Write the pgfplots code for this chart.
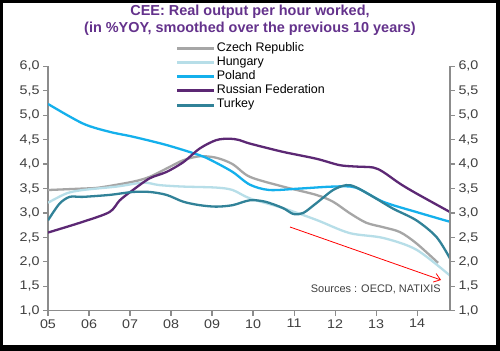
\documentclass[border=0pt]{standalone}
\usepackage{fontspec}
\setmainfont{Liberation Sans}
\newfontfamily\tickfont[FakeStretch=1.14]{Liberation Sans}
\usepackage{pgfplots}
\pgfplotsset{compat=1.18}
\usetikzlibrary{arrows.meta}
\definecolor{czech}{RGB}{166,166,166}
\definecolor{hungary}{RGB}{183,222,232}
\definecolor{poland}{RGB}{20,176,236}
\definecolor{russia}{RGB}{92,40,116}
\definecolor{turkey}{RGB}{49,130,152}
\definecolor{titlecol}{RGB}{100,50,140}
\definecolor{axgray}{RGB}{140,140,140}
\definecolor{txtgray}{RGB}{64,64,64}
\begin{document}
\begin{tikzpicture}
\fill[black] (0bp,0bp) rectangle (500bp,351bp);
\path[use as bounding box] (0bp,0bp) rectangle (500bp,351bp);
\fill[white] (3bp,6bp) rectangle (496bp,348bp);
\node[font=\bfseries\fontsize{14.5}{17}\selectfont, text=titlecol, align=center] at (250bp,330.5bp)
  {CEE: Real output per hour worked,\\(in \%YOY, smoothed over the previous 10 years)};
\pgfplotsset{
  common/.style={
    at={(48bp,40.2bp)}, anchor=south west, scale only axis,
    width=402bp, height=244.5bp,
    xmin=0, xmax=9.8, ymin=1, ymax=6,
    axis line style={axgray, line width=1.2bp, -},
    tick style={axgray, line width=1.2bp},
    tick align=outside, major tick length=5bp,
    ytick={1,1.5,...,6},
    /pgf/number format/.cd, fixed, fixed zerofill, precision=1, use comma, assume math mode=true,
    /pgfplots/.cd,
    tick label style={font=\tickfont\fontsize{12.6}{14}\selectfont, text=txtgray},
  }
}
\begin{axis}[common,
  axis x line*=bottom, axis y line*=left,
  xtick={0,...,9}, xticklabels={05,06,07,08,09,10,11,12,13,14},
  legend style={at={(0.31,1.112)}, anchor=north west, draw=none, fill=none,
    font=\fontsize{12.5}{13}\selectfont, row sep=0bp,
    nodes={inner xsep=1bp, inner ysep=0bp, text height=10bp, text depth=4.2bp}},
  legend cell align=left,
  legend image code/.code={\draw[#1, line width=3bp] (0bp,0bp) -- (37bp,0bp);},
  every axis plot/.append style={line width=2.3bp, smooth, tension=0.5, no markers},
]
\addplot[czech] coordinates {(0,3.47) (0.85,3.5) (1.25,3.52) (2.07,3.64) (2.48,3.74) (2.89,3.91) (3.3,4.08) (3.7,4.16) (4.1,4.13) (4.5,4.0) (4.92,3.74) (5.73,3.54) (6.54,3.37) (6.95,3.23) (7.35,3.0) (7.76,2.8) (8.17,2.71) (8.58,2.61) (8.98,2.38) (9.51,1.98)};
\addlegendentry{Czech Republic}
\addplot[hungary] coordinates {(0,3.21) (0.45,3.4) (0.85,3.47) (1.67,3.54) (2.32,3.62) (2.72,3.57) (3.3,3.54) (4.1,3.52) (4.5,3.47) (4.92,3.3) (5.73,3.1) (6.54,2.86) (7.35,2.59) (8.17,2.49) (8.98,2.25) (9.8,1.72)};
\addlegendentry{Hungary}
\addplot[poland] coordinates {(0,5.23) (0.85,4.83) (1.5,4.66) (2.07,4.56) (2.89,4.39) (3.7,4.18) (4.0,4.07) (4.5,3.84) (4.92,3.58) (5.4,3.47) (6.14,3.5) (6.95,3.54) (7.5,3.52) (8.17,3.23) (8.98,3.02) (9.8,2.82)};
\addlegendentry{Poland}
\addplot[russia] coordinates {(0,2.6) (0.85,2.82) (1.5,3.02) (1.75,3.26) (2.07,3.47) (2.48,3.71) (2.89,3.84) (3.3,4.04) (3.7,4.32) (4.1,4.49) (4.43,4.52) (4.67,4.49) (4.92,4.42) (5.73,4.25) (6.54,4.11) (7.1,3.98) (7.5,3.95) (7.93,3.93) (8.17,3.84) (8.58,3.6) (8.98,3.4) (9.8,3.02)};
\addlegendentry{Russian Federation}
\addplot[turkey] coordinates {(0,2.85) (0.28,3.19) (0.53,3.33) (0.85,3.33) (1.5,3.37) (2.07,3.43) (2.48,3.43) (2.89,3.37) (3.3,3.23) (3.7,3.16) (4.1,3.13) (4.5,3.16) (4.92,3.26) (5.3,3.23) (5.73,3.1) (5.98,2.98) (6.22,3.0) (6.54,3.2) (6.95,3.47) (7.27,3.57) (7.5,3.53) (7.93,3.33) (8.41,3.09) (8.98,2.85) (9.47,2.51) (9.8,2.07)};
\addlegendentry{Turkey}
\end{axis}
\begin{axis}[common,
  axis x line=none, axis y line*=right, yticklabel pos=right,
]
\end{axis}
\draw[red, line width=0.8bp, -{Straight Barb[length=6bp, width=9bp]}] (290bp,124bp) -- (441bp,71bp);
\node[anchor=base east, font=\fontsize{11}{13}\selectfont, text=txtgray, inner sep=0pt] at (441bp,58.5bp) {Sources : OECD, NATIXIS};
\end{tikzpicture}
\end{document}
